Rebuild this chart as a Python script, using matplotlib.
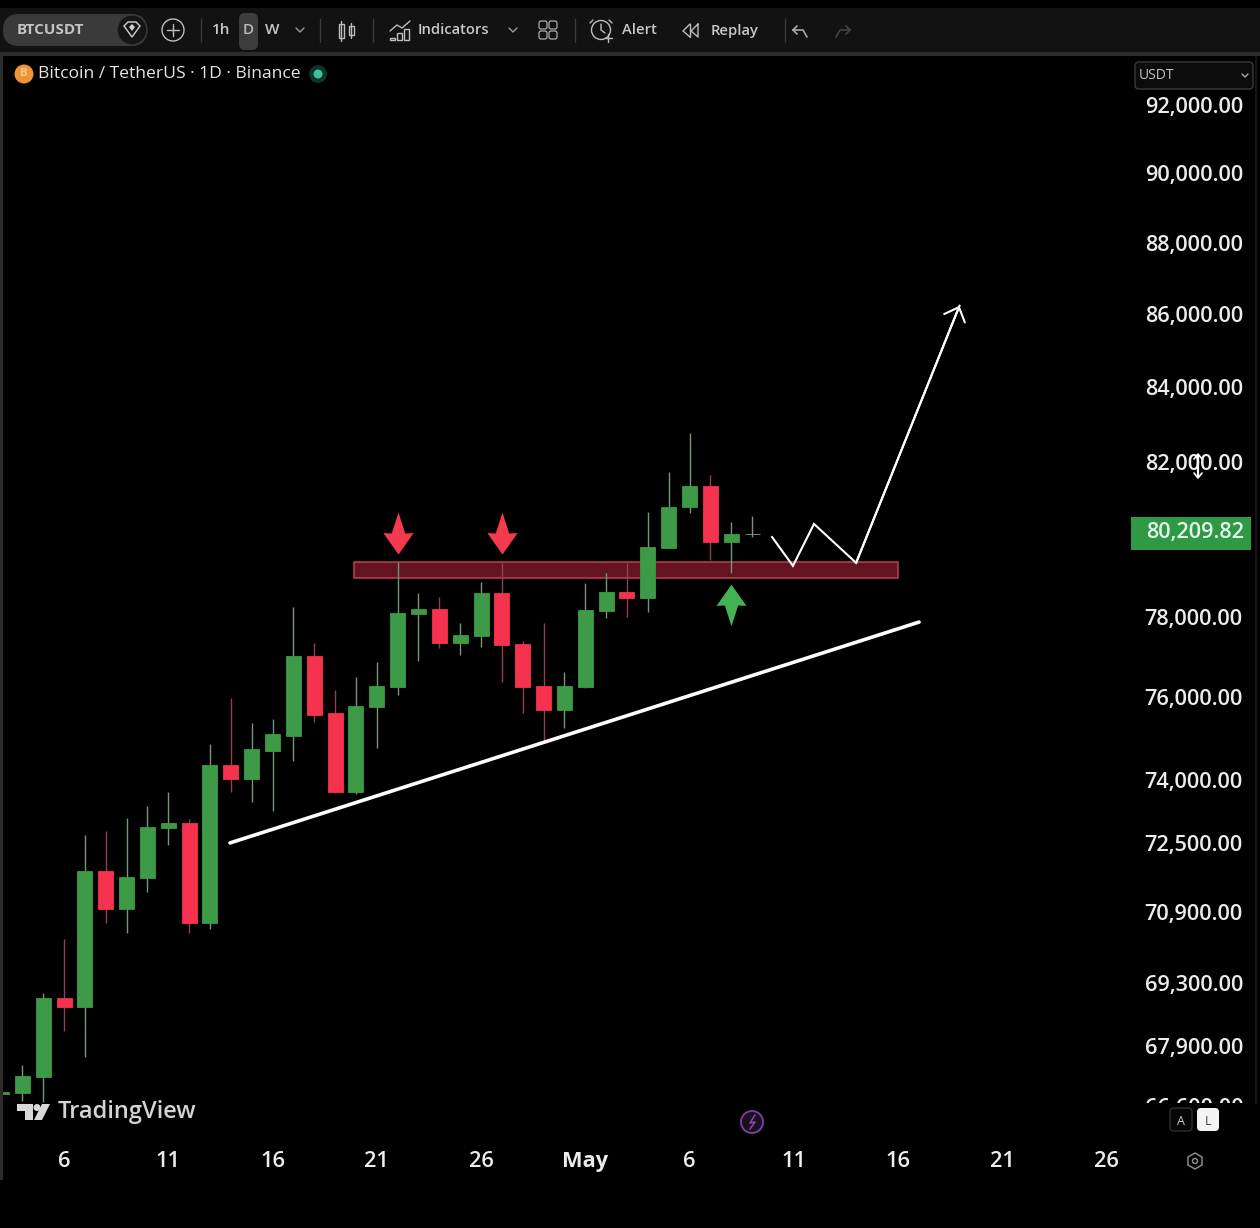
import matplotlib
matplotlib.use("Agg")
import matplotlib.pyplot as plt
from matplotlib.patches import Rectangle, FancyBboxPatch, Circle, Polygon
from matplotlib.path import Path
from matplotlib.transforms import Bbox

plt.rcParams['font.family'] = ['Open Sans', 'DejaVu Sans']

# --- data (April day numbers; May 1 = 31) ---
days = list(range(3, 40))
opens = [66870, 66890, 67235, 68970, 68770, 71850, 70980, 71690, 72860, 72975, 70660, 74350, 74010,
         74690, 75055, 77015, 75610, 73705, 75760, 76245, 78060, 78190, 77340, 77515, 78595, 77315,
         76270, 75685, 76245, 78140, 78620, 78470, 79745, 80810, 81360, 79900, 80100]
highs = [66920, 67490, 69080, 70290, 72690, 72790, 73090, 73375, 73705, 73070, 74860, 75970, 75370,
         75465, 78240, 77340, 76170, 76495, 76865, 79390, 78595, 78495, 77835, 78880, 79365, 77390,
         77835, 76620, 78855, 79110, 79365, 80680, 81725, 82770, 81645, 80420, 80575]
lows = [66860, 66715, 66695, 68235, 67665, 70660, 70430, 71370, 72455, 70430, 70520, 73705, 73470,
        73260, 74450, 75395, 73690, 73660, 74765, 76045, 76890, 77215, 77040, 77240, 76375, 75610,
        74910, 75245, 76230, 77960, 77985, 78110, 79745, 80655, 79440, 79110, 80025]
closes = [66910, 67255, 68970, 68770, 71850, 70980, 71710, 72880, 72975, 70660, 74350, 74010, 74740,
          75100, 77015, 75560, 73705, 75780, 76270, 78085, 78190, 77340, 77540, 78595, 77290, 76245,
          75685, 76270, 78165, 78620, 78470, 79770, 80810, 81360, 79900, 80105, 80105]

price_ticks = [92000, 90000, 88000, 86000, 84000, 82000, 78000, 76000, 74000, 72500, 70900, 69300, 67900, 66600]
day_ticks = [6, 11, 16, 21, 26, 31, 36, 41, 46, 51, 56]
day_labels = ['6', '11', '16', '21', '26', 'May', '6', '11', '16', '21', '26']
current_price = 80209.82

zone_days = [19.91, 46.0]
zone_prices = [78980, 79388]
trend_days = [13.96, 47.01]
trend_prices = [72504, 77861]
path_days = [39.96, 40.96, 41.97, 43.99, 48.95]
path_prices = [80026, 79286, 80366, 79363, 86230]
sell_days = [22, 27]
sell_prices = [80130, 80130]
buy_days = [38]
buy_prices = [78293]

W, H = 1260, 1228
UP, DOWN = '#3d9a47', '#f5334f'
UP_W, DOWN_W = '#77957a', '#96404f'

fig = plt.figure(figsize=(W / 100, H / 100), dpi=100, facecolor='black')
ax = fig.add_axes([3 / W, (H - 1140) / H, 1125 / W, 1085 / H], facecolor='black')
ax.set_yscale('log')
ax.set_xlim(3.074, 57.03)
ax.set_ylim(65876, 93497)
for s in ax.spines.values():
    s.set_visible(False)

# zone
ax.add_patch(Rectangle((zone_days[0], zone_prices[0]), zone_days[1] - zone_days[0],
                       zone_prices[1] - zone_prices[0], facecolor=(0.78, 0.16, 0.25, 0.5),
                       edgecolor=(0.85, 0.3, 0.4, 0.75), lw=1.2, zorder=1))

# candles
for d, o, h, l, c in zip(days, opens, highs, lows, closes):
    up = c >= o
    flat = abs(c - o) < 10
    body = '#8b9b8b' if flat else (UP if up else DOWN)
    ax.vlines(d, l, h, color=UP_W if up else DOWN_W, lw=1.0, zorder=2)
    ax.bar(d, abs(c - o), bottom=min(o, c), width=0.72, color=body, edgecolor=body, lw=0.6, zorder=3)

# drawings
ax.plot(trend_days, trend_prices, color='white', lw=2.6, solid_capstyle='round', zorder=4)
ax.plot(path_days, path_prices, color='white', lw=1.5, solid_joinstyle='miter', zorder=4)
ax.annotate('', xy=(path_days[-1], path_prices[-1]), xytext=(path_days[-2], path_prices[-2]),
            arrowprops=dict(arrowstyle='->,head_length=0.86,head_width=0.8', color='white', lw=1.5,
                            shrinkA=0, shrinkB=0, mutation_scale=10), zorder=4)

down_v = [(0, 1), (-0.32, 0.0), (-0.72, 0.02), (0, -1), (0.72, 0.02), (0.32, 0.0), (0, 1)]
up_v = [(x, -y) for x, y in down_v]
ax.scatter(sell_days, sell_prices, marker=Path(down_v), s=915, color='#f5394f', lw=0, zorder=5)
ax.scatter(buy_days, buy_prices, marker=Path(up_v), s=900, color='#41b354', lw=0, zorder=5)

# axes ticks
ax.yaxis.tick_right()
ax.set_yticks(price_ticks)
ax.set_yticklabels([f'{p:,.2f}' for p in price_ticks])
ax.minorticks_off()
ax.set_xticks(day_ticks)
ax.set_xticklabels(day_labels)
ax.tick_params(axis='y', length=0, pad=12, labelsize=15.7, labelcolor='#ececec')
ax.tick_params(axis='x', length=0, pad=8, labelsize=15.7, labelcolor='#ececec')
for lab in ax.get_yticklabels() + ax.get_xticklabels():
    lab.set_fontweight('semibold')
ax.get_xticklabels()[5].set_fontweight('bold')
last = ax.get_yticklabels()[-1]
last.set_clip_box(Bbox([[1100, H - 1103], [W, H - 1090]]))
last.set_clip_on(True)

# --- interface chrome, drawn in pixel space ---
ui = fig.add_axes([0, 0, 1, 1], facecolor='none', zorder=10)
ui.set_xlim(0, W)
ui.set_ylim(H, 0)
ui.axis('off')
GREY = '#bdbdbd'


def txt(x, y, s, size=11.5, color='#c8c8c8', ha='left', weight='normal'):
    ui.text(x, y + 1.5, s, fontsize=size, color=color, ha=ha, va='center', weight=weight)


def seg(pts, color=GREY, lw=1.0):
    xs, ys = zip(*pts)
    ui.plot(xs, ys, color=color, lw=lw, solid_capstyle='round')


def rbox(x0, y0, x1, y1, r, fc, ec='none', lw=1.0):
    ui.add_patch(FancyBboxPatch((x0 + r, y0 + r), x1 - x0 - 2 * r, y1 - y0 - 2 * r,
                                boxstyle=f'round,pad={r},rounding_size={r}', fc=fc, ec=ec, lw=lw))


ui.add_patch(Rectangle((0, 8), W, 44, fc='#121212', ec='none'))
ui.add_patch(Rectangle((0, 52), W, 4, fc='#2c2c2c', ec='none'))
ui.add_patch(Rectangle((0, 56), 3, 1124, fc='#2c2c2c', ec='none'))
ui.add_patch(Rectangle((1255, 56), 2, 1048, fc='#161616', ec='none'))

rbox(3, 14, 147, 46, 16, '#3a3a3a')
ui.add_patch(Circle((132, 30), 15, fc='#161616', ec='#3a3a3a', lw=1))
ui.add_patch(Polygon([(124, 26), (128, 22), (136, 22), (140, 26), (132, 37)], fc='none', ec='#d0d0d0', lw=1))
ui.add_patch(Polygon([(129, 27), (132, 24), (135, 27), (132, 31)], fc='#d0d0d0', ec='none'))
txt(17, 29, 'BTCUSDT', 11, '#c4c4c4', weight='bold')
ui.add_patch(Circle((173, 30), 11, fc='none', ec=GREY, lw=1))
seg([(167, 30), (179, 30)])
seg([(173, 24), (173, 36)])
for x in (201, 320, 373, 575, 785):
    seg([(x, 19), (x, 42)], '#3a3a3a')
txt(221, 29, '1h', 11, ha='center', weight='semibold')
rbox(239, 13, 258, 50, 6, '#3c3c3c')
txt(248, 29, 'D', 11, '#bbbbbb', ha='center', weight='semibold')
txt(272, 29, 'W', 11, ha='center', weight='semibold')
for x in (300, 513):
    seg([(x - 4, 28), (x, 32), (x + 4, 28)], '#999999')
# candle icon
for x, t, b, y0, y1 in ((341, 21, 41, 24, 38), (351, 23, 38, 26, 35)):
    seg([(x, t), (x, b)])
    ui.add_patch(Rectangle((x - 2.5, y0), 5, y1 - y0, fc='none', ec=GREY, lw=1))
# indicators icon
for x, y0 in ((392, 38), (399, 33), (406, 29)):
    ui.add_patch(Rectangle((x - 2.5, y0), 5, 40 - y0, fc='none', ec=GREY, lw=1))
seg([(390, 31), (397, 25), (402, 28), (410, 21)])
txt(418, 29, 'Indicators', 10.6, weight='semibold')
for x in (543, 553):
    for y in (25, 35):
        rbox(x - 4, y - 4, x + 4, y + 4, 2, 'none', GREY, 0.8)
# alert icon
ui.add_patch(Circle((601, 30), 9.5, fc='none', ec=GREY, lw=1))
seg([(601, 24), (601, 30), (605, 33)])
seg([(593, 20), (590, 23)])
seg([(609, 20), (612, 23)])
seg([(604, 38), (612, 38)])
seg([(608, 34), (608, 42)])
txt(622, 29, 'Alert', 10.6, weight='semibold')
# replay icon
seg([(690, 24), (683, 31), (690, 37)])
seg([(690, 24), (690, 37)])
seg([(698, 24), (691, 31), (698, 37), (698, 24)])
txt(711, 29, 'Replay', 10.6, weight='semibold')
seg([(793, 30), (797, 26)], '#aaaaaa', 1.2)
seg([(793, 30), (797, 34)], '#aaaaaa', 1.2)
seg([(793, 30), (803, 30), (807, 37)], '#aaaaaa', 1.2)
seg([(850, 30), (846, 26)], '#444444', 1.2)
seg([(850, 30), (846, 34)], '#444444', 1.2)
seg([(850, 30), (840, 30), (836, 37)], '#444444', 1.2)

# legend line
ui.add_patch(Circle((24, 74), 9.5, fc='#ee9436', ec='none'))
ui.text(24, 74, 'B', fontsize=8, color='#f8c88a', ha='center', va='center', weight='bold')
txt(38, 73, 'Bitcoin / TetherUS · 1D · Binance', 12.6, '#e6e6e6')
ui.add_patch(Circle((318, 74), 9, fc='#0c352a', ec='none'))
ui.add_patch(Circle((318, 74), 4.5, fc='#3ac29a', ec='none'))

# USDT selector
rbox(1135, 62, 1253, 89, 4, '#0c0c0c', '#3a3a3a', 1)
txt(1139, 74, 'USDT', 10, '#c4c4c4')
seg([(1242, 74), (1245, 77), (1248, 74)], '#aaaaaa')

# current price tag
ui.add_patch(Rectangle((1131, 517), 120, 33, fc='#2f9a45', ec='none'))
txt(1195, 531, f'{current_price:,.2f}', 15.7, '#e8f4e8', ha='center', weight='semibold')

# cursor
seg([(1198, 455), (1198, 477)], 'white', 1.6)
seg([(1194, 473), (1198, 478), (1202, 473)], 'white', 1.2)
seg([(1194, 459), (1198, 454), (1202, 459)], 'white', 1.2)

# TradingView watermark
ui.add_patch(Polygon([(17, 1104), (33, 1104), (33, 1120), (25, 1120), (25, 1111), (17, 1111)], fc='#d8d8d8', ec='none'))
ui.add_patch(Circle((37, 1107.5), 3.5, fc='#d8d8d8', ec='none'))
ui.add_patch(Polygon([(42, 1104), (50, 1104), (42, 1120), (34, 1120)], fc='#d8d8d8', ec='none'))
txt(58, 1110.5, 'TradingView', 17, '#d4d4d4', weight='semibold')

# lightning badge
ui.add_patch(Circle((752, 1122), 11, fc='#1c0f22', ec='#7a3f98', lw=1.4))
seg([(755, 1115), (750, 1123), (755, 1122), (750, 1129)], '#8a4aa8', 1.1)

# A / L buttons
rbox(1170, 1108, 1192, 1131, 4, '#060606', '#2e2e2e', 1)
txt(1181, 1120, 'A', 9, '#c8c8c8', ha='center')
rbox(1197, 1108, 1219, 1131, 4, '#f4f4f4')
txt(1208, 1120, 'L', 9, '#444444', ha='center')

# settings hexagon
ui.add_patch(Polygon([(1195, 1153), (1202, 1157), (1202, 1165), (1195, 1169), (1188, 1165), (1188, 1157)],
                     fc='none', ec='#8a8a8a', lw=1.1))
ui.add_patch(Circle((1195, 1161), 2.5, fc='none', ec='#8a8a8a', lw=1.1))

fig.savefig('out.png', dpi=100, facecolor='black')
